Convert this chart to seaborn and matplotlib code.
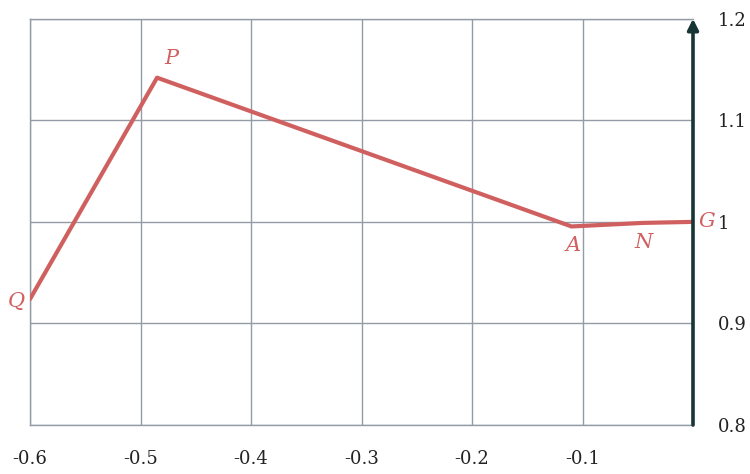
import matplotlib
matplotlib.use("Agg")
import matplotlib.pyplot as plt
import seaborn as sns
import pandas as pd

# path points
names = ["Q", "P", "A", "N", "G"]
xs = [-0.6, -0.485, -0.11, -0.045, 0.0]
ys = [0.924, 1.142, 0.9955, 0.999, 1.0]

x_ticks = [-0.6, -0.5, -0.4, -0.3, -0.2, -0.1, 0.0]
x_labels = ["-0.6", "-0.5", "-0.4", "-0.3", "-0.2", "-0.1", ""]
y_ticks = [0.8, 0.9, 1.0, 1.1, 1.2]
y_labels = ["0.8", "0.9", "1", "1.1", "1.2"]

df = pd.DataFrame({"x": xs, "y": ys, "name": names})

sns.set_style("white")
plt.rcParams["font.family"] = ["DejaVu Serif", "DejaVu Sans"]

red = "#d0605f"
grid_col = "#939ca6"
axis_col = "#173535"

fig = plt.figure(figsize=(7.5, 4.74), dpi=100)
ax = fig.add_axes([0.04, 0.1034, 0.884, 0.857])

sns.lineplot(data=df, x="x", y="y", sort=False, color=red, linewidth=3,
             ax=ax, zorder=3)

ax.set_xlim(-0.6, 0)
ax.set_ylim(0.8, 1.2)
ax.set_xticks(x_ticks)
ax.set_xticklabels(x_labels, fontsize=13, color="#222222")
ax.set_yticks(y_ticks)
ax.set_yticklabels(y_labels, fontsize=13, color="#222222")
ax.yaxis.tick_right()
ax.tick_params(axis="y", length=0, pad=18)
ax.tick_params(axis="x", length=5, width=1, color=grid_col, direction="out", pad=13)
ax.set_xlabel("")
ax.set_ylabel("")
ax.grid(True, color=grid_col, linewidth=1.0)

for side in ["left", "top", "bottom"]:
    ax.spines[side].set_color(grid_col)
    ax.spines[side].set_linewidth(1.0)
ax.spines["right"].set_visible(False)

# vertical axis with arrow at x = 0
ax.annotate("", xy=(0, 1.2), xytext=(0, 0.8),
            arrowprops=dict(arrowstyle="-|>", color=axis_col, lw=2.6,
                            mutation_scale=16, shrinkA=0, shrinkB=0),
            annotation_clip=False, zorder=5)

# point labels
offsets = {"Q": (-10, -2), "P": (10, 14), "A": (1, -14), "N": (0, -14), "G": (10, 0)}
for n, x, y in zip(names, xs, ys):
    ax.annotate(n, (x, y), xytext=offsets[n], textcoords="offset points",
                ha="center", va="center", fontsize=15, fontstyle="italic",
                color=red, annotation_clip=False)

fig.savefig("out.png", dpi=100)
